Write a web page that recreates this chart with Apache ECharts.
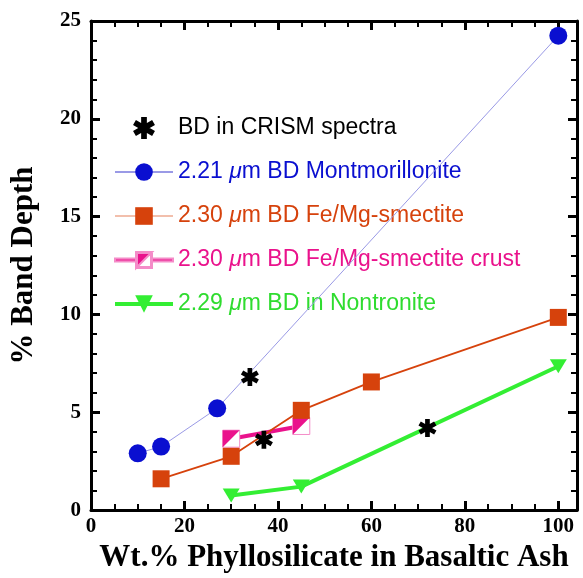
<!DOCTYPE html>
<html lang="en">

<head>
    <meta charset="UTF-8">
    <title>Band depth vs phyllosilicate</title>
</head>
<style>
    html, body {
        margin: 0;
        padding: 0;
        background: #fff;
    }

    #main {
        width: 583px;
        height: 578px;
    }
</style>

<body>
    <div id="main"></div>
    <script src="https://cdn.jsdelivr.net/npm/echarts@6.0.0/dist/echarts.min.js"></script>

    <script>
        // values: [wt.% phyllosilicate, % band depth]
        const crism = [[34, 6.8], [37, 3.6], [72, 4.2]]
        const montmorillonite = [[10, 2.9], [15, 3.25], [27, 5.2], [100, 24.25]]
        const femgSmectite = [[15, 1.6], [30, 2.75], [45, 5.1], [60, 6.55], [100, 9.85]]
        const femgCrust = [[30, 3.65], [45, 4.3]]
        const nontronite = [[30, 0.75], [45, 1.2], [100, 7.35]]

        const names = [
            'BD in CRISM spectra',
            '2.21 {i|μ}m BD Montmorillonite',
            '2.30 {i|μ}m BD Fe/Mg-smectite',
            '2.30 {i|μ}m BD Fe/Mg-smectite crust',
            '2.29 {i|μ}m BD in Nontronite'
        ]
        const xTicks = [0, 20, 40, 60, 80, 100]

        const blue = '#0a0fd0'
        const orange = '#d6420c'
        const pink = '#ea128c'
        const green = '#33ee33'

        const starPath = 'path://M-1.3,-5L1.3,-5L1.3,5L-1.3,5Z' +
            'M3.68,-3.63L4.98,-1.37L-3.68,3.63L-4.98,1.37Z' +
            'M-4.98,-1.37L-3.68,-3.63L4.98,1.37L3.68,3.63Z'
        const halfPath = 'path://M0,0L10,0L0,10Z'
        // legend icon for the crust series: line, half-filled square
        const crustIcon = 'path://M0,9H21V12H0Z M37,9H58V12H37Z' +
            'M21,2.5H37V18.5H21Z M22,3.5V17.5H36V3.5Z M21,2.5H37L21,18.5Z'

        const serif = 'Liberation Serif'
        const sans = 'Liberation Sans'

        function frameAxis(pos, isX) {
            return {
                type: 'value',
                position: pos,
                min: 0,
                max: isX ? 104 : 25,
                interval: isX ? 20 : 5,
                axisLine: { show: true, onZero: false, lineStyle: { color: '#000', width: 3 } },
                axisTick: { show: true, inside: true, length: 9, lineStyle: { color: '#000', width: 3 } },
                minorTick: { show: true, splitNumber: isX ? 4 : 5, length: 6, lineStyle: { color: '#000', width: 2 } },
                axisLabel: { show: false },
                splitLine: { show: false }
            }
        }

        const xBottom = frameAxis('bottom', true)
        xBottom.axisLabel = {
            show: true,
            margin: 6,
            color: '#000',
            fontFamily: serif,
            fontWeight: 'bold',
            fontSize: 21,
            formatter: v => xTicks.includes(v) ? String(v) : ''
        }
        xBottom.name = 'Wt.% Phyllosilicate in Basaltic Ash'
        xBottom.nameLocation = 'middle'
        xBottom.nameGap = 26
        xBottom.nameTextStyle = { color: '#000', fontFamily: serif, fontWeight: 'bold', fontSize: 31 }

        const yLeft = frameAxis('left', false)
        yLeft.axisLabel = {
            show: true,
            margin: 10,
            color: '#000',
            fontFamily: serif,
            fontWeight: 'bold',
            fontSize: 21
        }
        yLeft.name = '% Band Depth'
        yLeft.nameLocation = 'middle'
        yLeft.nameGap = 52
        yLeft.nameTextStyle = { color: '#000', fontFamily: serif, fontWeight: 'bold', fontSize: 31 }

        let chart = echarts.init(document.getElementById('main'))
        let option = {
            animation: false,
            backgroundColor: '#fff',
            grid: { left: 88, right: 6, top: 21, bottom: 63 },
            xAxis: [xBottom, frameAxis('top', true)],
            yAxis: [yLeft, frameAxis('right', false)],
            legend: {
                orient: 'vertical',
                left: 108,
                top: 111,
                itemWidth: 58,
                itemHeight: 22,
                itemGap: 20,
                selectedMode: false,
                textStyle: {
                    fontFamily: sans,
                    fontSize: 23,
                    lineHeight: 24,
                    rich: {
                        i: { fontFamily: sans, fontSize: 23, fontStyle: 'italic' }
                    }
                },
                data: [
                    { name: names[0], textStyle: { color: '#000' } },
                    { name: names[1], textStyle: { color: blue } },
                    { name: names[2], lineStyle: { color: '#eeaa90', width: 1.5 }, textStyle: { color: orange } },
                    { name: names[3], icon: crustIcon, itemStyle: { color: pink }, textStyle: { color: pink } },
                    { name: names[4], lineStyle: { width: 4 }, textStyle: { color: '#2fdc2f' } }
                ]
            },
            series: [
                {
                    name: names[4],
                    type: 'line',
                    data: nontronite,
                    symbol: 'triangle',
                    symbolRotate: 180,
                    symbolSize: [17, 14],
                    itemStyle: { color: green },
                    lineStyle: { color: green, width: 4 },
                    z: 2
                },
                {
                    name: names[3],
                    type: 'line',
                    data: femgCrust,
                    symbol: 'rect',
                    symbolSize: 17,
                    itemStyle: { color: '#fff', borderColor: '#f48cc8', borderWidth: 1 },
                    lineStyle: { color: pink, width: 4 },
                    z: 3
                },
                {
                    name: 'crust-half',
                    type: 'scatter',
                    data: femgCrust,
                    symbol: halfPath,
                    symbolSize: 17,
                    itemStyle: { color: pink, opacity: 1 },
                    z: 4
                },
                {
                    name: names[2],
                    type: 'line',
                    data: femgSmectite,
                    symbol: 'rect',
                    symbolSize: 17,
                    itemStyle: { color: orange },
                    lineStyle: { color: orange, width: 1.8 },
                    z: 5
                },
                {
                    name: names[1],
                    type: 'line',
                    data: montmorillonite,
                    symbol: 'circle',
                    symbolSize: 18,
                    itemStyle: { color: blue },
                    lineStyle: { color: '#9a9ae6', width: 1 },
                    z: 6
                },
                {
                    name: names[0],
                    type: 'scatter',
                    data: crism,
                    symbol: starPath,
                    symbolSize: 18,
                    itemStyle: { color: '#000', opacity: 1 },
                    z: 7
                }
            ]
        }
        chart.setOption(option)
    </script>
</body>

</html>
